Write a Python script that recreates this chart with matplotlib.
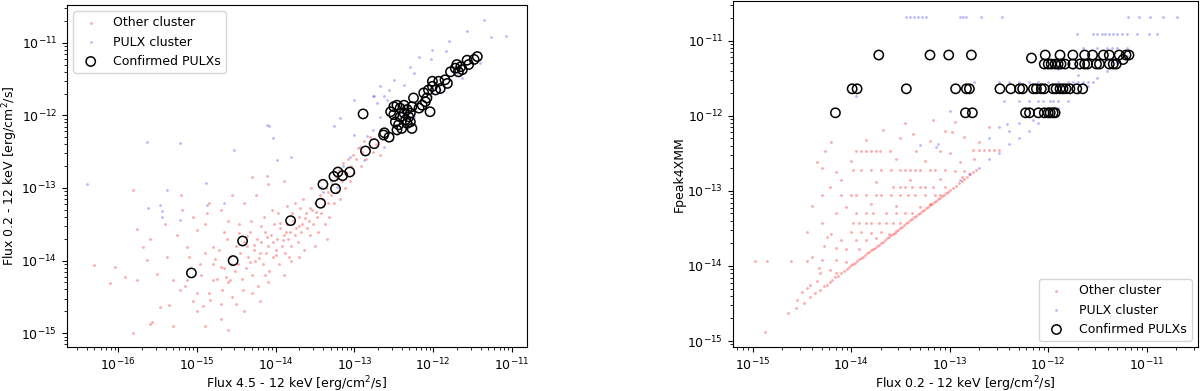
import numpy as np
import matplotlib
matplotlib.use('Agg')
import matplotlib.pyplot as plt

plt.rcParams['font.size'] = 9

# all values are log10(flux)

# ---- left panel: Flux 4.5-12 keV vs Flux 0.2-12 keV ----
left_other = [
    (-16.31, -14.06), (-16.04, -14.09), (-16.10, -14.31), (-15.81, -13.03), (-15.76, -13.56),
    (-15.91, -14.22), (-15.76, -14.27), (-15.57, -14.84), (-15.81, -15.00), (-15.60, -14.87),
    (-15.47, -14.64), (-15.36, -14.61), (-15.68, -13.81), (-15.64, -13.99), (-15.38, -13.95),
    (-15.51, -14.18), (-15.30, -14.27), (-15.21, -14.41), (-15.19, -13.30), (-15.13, -13.81),
    (-15.00, -13.58), (-14.96, -14.04), (-14.87, -13.35), (-14.83, -14.54), (-14.79, -14.27),
    (-15.00, -14.45), (-15.13, -14.27), (-14.58, -14.27), (-14.70, -14.09), (-14.79, -13.81),
    (-15.15, -14.35), (-15.05, -14.55), (-14.95, -14.20), (-14.90, -13.90), (-14.85, -14.45),
    (-14.80, -14.05), (-15.10, -13.95), (-15.00, -14.70), (-14.92, -14.62),
    (-14.75, -14.25), (-14.72, -13.85), (-14.68, -14.40), (-14.65, -14.10), (-14.62, -13.70),
    (-14.60, -14.30), (-14.58, -13.95), (-14.55, -14.50), (-14.52, -14.15), (-14.50, -13.80),
    (-14.70, -14.60), (-14.66, -13.60),
    (-14.48, -14.05), (-14.45, -13.90), (-14.43, -14.25), (-14.40, -13.75), (-14.38, -14.10),
    (-14.35, -13.95), (-14.33, -13.60), (-14.30, -14.20), (-14.28, -13.85), (-14.26, -14.00),
    (-14.24, -13.70), (-14.22, -14.35), (-14.20, -13.90), (-14.46, -13.50), (-14.42, -14.40),
    (-14.36, -13.80), (-14.31, -13.45),
    (-14.18, -13.75), (-14.16, -14.05), (-14.14, -13.60), (-14.12, -13.90), (-14.10, -13.80),
    (-14.08, -14.15), (-14.06, -13.65), (-14.04, -13.95), (-14.02, -13.50), (-14.00, -13.85),
    (-13.98, -13.70), (-13.96, -14.05), (-13.94, -13.55), (-13.92, -13.80), (-13.90, -13.65),
    (-14.15, -13.40), (-14.05, -13.30), (-13.97, -13.35),
    (-13.88, -13.90), (-13.86, -13.50), (-13.84, -13.70), (-13.82, -13.60), (-13.80, -13.80),
    (-13.78, -13.45), (-13.76, -13.65), (-13.74, -13.55), (-13.72, -13.75), (-13.70, -13.40),
    (-13.68, -13.60), (-13.66, -13.50), (-13.64, -13.85), (-13.62, -13.35), (-13.60, -13.55),
    (-13.85, -13.25), (-13.75, -13.20), (-13.65, -13.15), (-13.80, -14.00),
    (-13.58, -13.45), (-13.56, -13.65), (-13.54, -13.30), (-13.52, -13.50), (-13.50, -13.20),
    (-13.48, -13.40), (-13.46, -13.60), (-13.44, -13.10), (-13.42, -13.35), (-13.40, -13.25),
    (-13.38, -13.50), (-13.36, -13.00), (-13.34, -13.20), (-13.32, -13.40), (-13.30, -13.10),
    (-13.55, -13.00), (-13.45, -12.90), (-13.35, -13.70),
    (-13.28, -12.95), (-13.26, -13.20), (-13.24, -12.85), (-13.22, -13.05), (-13.20, -12.75),
    (-13.18, -13.15), (-13.16, -12.90), (-13.14, -12.65), (-13.12, -13.00), (-13.10, -12.80),
    (-13.08, -12.60), (-13.06, -12.90), (-13.04, -12.70), (-13.02, -12.55), (-13.00, -12.80),
    (-12.98, -12.60), (-12.95, -12.45), (-12.92, -12.70), (-12.90, -12.50), (-12.88, -12.35),
    (-12.85, -12.60), (-12.82, -12.45), (-12.80, -12.30), (-12.76, -12.50), (-12.72, -12.40),
    (-12.68, -12.55),
    (-15.60, -13.70), (-15.40, -13.50), (-15.25, -13.65), (-15.20, -13.10), (-15.05, -13.40),
    (-14.90, -13.50), (-14.85, -13.20), (-14.70, -13.30), (-14.60, -13.45), (-14.55, -13.10),
    (-14.40, -13.20), (-14.25, -13.10), (-14.10, -12.95), (-13.90, -12.90), (-14.30, -12.85),
    (-14.11, -12.84),
    (-14.90, -14.90), (-14.70, -14.80), (-14.50, -14.60), (-14.30, -14.45), (-14.10, -14.30),
    (-13.90, -14.20), (-14.40, -14.70), (-15.30, -14.90), (-14.60, -14.95), (-13.70, -13.95),
    (-13.50, -13.80), (-14.20, -14.55),
    # extra fill of the dense part of the band
    (-14.37, -13.66), (-14.27, -13.78), (-14.19, -13.52), (-14.11, -13.68), (-14.03, -13.74),
    (-13.95, -13.48), (-13.87, -13.60), (-13.79, -13.35), (-13.71, -13.52), (-13.63, -13.42),
    (-13.57, -13.28), (-13.49, -13.33), (-13.41, -13.15), (-13.33, -13.05), (-14.33, -14.02),
    (-14.21, -13.97), (-14.13, -14.20), (-13.99, -13.92), (-13.91, -13.72), (-13.83, -13.95),
    (-14.57, -14.05), (-14.63, -14.22), (-14.47, -13.62), (-14.77, -13.98), (-13.69, -13.28),
]

left_pulx = [
    (-11.36, -10.69), (-11.57, -10.84), (-11.27, -10.92), (-11.07, -10.91), (-11.80, -10.98),
    (-11.84, -11.12), (-12.01, -11.10), (-12.18, -11.20), (-12.29, -11.33), (-12.03, -11.23),
    (-12.25, -11.42), (-12.37, -11.58), (-12.56, -11.65), (-12.63, -11.74), (-12.76, -11.74),
    (-12.71, -11.83), (-12.50, -11.51), (-12.59, -11.79), (-12.67, -12.02), (-12.76, -12.20),
    (-12.84, -12.29), (-12.93, -12.43), (-13.01, -12.27), (-13.05, -12.57), (-13.14, -12.70),
    (-13.22, -12.98), (-12.52, -12.34), (-12.46, -12.25), (-12.12, -11.88), (-12.03, -11.74),
    (-11.91, -11.65), (-11.78, -11.51), (-11.70, -11.42), (-11.63, -11.49), (-11.72, -11.33),
    (-11.53, -11.21), (-11.40, -11.28), (-12.33, -12.15), (-12.25, -12.02), (-12.63, -12.43),
    (-12.88, -12.61),
    (-14.11, -12.13), (-14.08, -12.15), (-15.64, -12.36), (-15.21, -12.38), (-14.53, -12.48),
    (-14.03, -12.31), (-13.81, -12.57), (-13.18, -12.04), (-13.26, -12.15), (-13.01, -11.79),
    (-12.67, -11.60), (-12.75, -11.74), (-16.40, -12.94), (-14.89, -12.93), (-13.98, -12.61),
    (-13.43, -12.98), (-15.62, -13.28), (-15.47, -13.23), (-15.44, -13.32), (-15.38, -13.03),
    (-15.21, -13.44), (-14.87, -13.23), (-14.66, -13.21), (-15.44, -13.40), (-13.40, -13.05),
    (-13.30, -12.90),
]

left_confirmed = [
    (-15.07, -14.17), (-14.54, -14.00), (-14.42, -13.73), (-13.81, -13.45), (-13.43, -13.21),
    (-13.40, -12.95), (-13.24, -13.01), (-13.26, -12.84), (-13.21, -12.78), (-13.15, -12.83),
    (-13.06, -12.78), (-12.86, -12.49), (-12.75, -12.39), (-12.63, -12.27), (-12.62, -12.24),
    (-12.56, -12.30), (-12.89, -11.98),
    (-12.54, -11.95), (-12.50, -11.88), (-12.46, -11.86), (-12.42, -11.90), (-12.37, -11.86),
    (-12.33, -11.92), (-12.29, -11.97), (-12.25, -11.76), (-12.27, -11.88), (-12.48, -12.09),
    (-12.44, -12.13), (-12.40, -12.18), (-12.35, -12.06), (-12.31, -12.02), (-12.27, -12.18),
    (-12.50, -11.99), (-12.42, -12.02), (-12.33, -12.11), (-12.46, -12.20), (-12.37, -11.97),
    (-12.29, -12.09), (-12.18, -11.90), (-12.14, -11.86), (-12.10, -11.81), (-12.04, -11.95),
    (-12.08, -11.76), (-12.12, -11.69), (-12.06, -11.65), (-12.01, -11.60), (-12.01, -11.53),
    (-11.97, -11.65), (-11.93, -11.53), (-11.91, -11.63), (-11.85, -11.51), (-11.82, -11.56),
    (-11.78, -11.40), (-11.72, -11.35), (-11.70, -11.30), (-11.68, -11.40), (-11.65, -11.33),
    (-11.63, -11.37), (-11.57, -11.24), (-11.55, -11.30), (-11.48, -11.23), (-11.44, -11.19),
]

# ---- right panel: Flux 0.2-12 keV vs Fpeak4XMM ----
right_other = [
    (-13.17, -12.06), (-13.45, -12.10), (-12.95, -12.08),
    (-13.68, -12.19), (-13.37, -12.24), (-12.98, -12.22), (-13.05, -12.20), (-12.60, -12.15),
    (-14.20, -12.35), (-13.85, -12.32), (-13.50, -12.30), (-13.20, -12.33), (-12.85, -12.28),
    (-12.70, -12.35),
    (-14.27, -12.47), (-13.95, -12.47), (-13.90, -12.47), (-13.85, -12.47), (-13.80, -12.47),
    (-13.75, -12.47), (-13.71, -12.47), (-13.61, -12.47), (-13.34, -12.47), (-12.76, -12.46),
    (-12.70, -12.46), (-12.65, -12.46), (-12.60, -12.46), (-12.55, -12.46), (-12.50, -12.46),
    (-13.10, -12.47), (-13.00, -12.50),
    (-14.35, -12.62), (-14.00, -12.60), (-13.55, -12.58), (-13.25, -12.60), (-12.90, -12.62),
    (-12.75, -12.58),
    (-13.98, -12.72), (-13.90, -12.72), (-13.80, -12.72), (-13.70, -12.72), (-13.60, -12.72),
    (-13.50, -12.72), (-13.45, -12.72), (-13.40, -12.72), (-13.35, -12.72), (-13.30, -12.72),
    (-13.20, -12.72), (-13.15, -12.72), (-13.05, -12.72), (-12.95, -12.73), (-12.85, -12.73),
    (-14.30, -12.70), (-14.15, -12.75),
    (-14.10, -12.85), (-13.75, -12.88), (-13.40, -12.85), (-13.10, -12.84), (-12.88, -12.82),
    (-14.22, -12.95), (-13.58, -12.95), (-13.50, -12.95), (-13.45, -12.95), (-13.38, -12.95),
    (-13.30, -12.95), (-13.25, -12.95), (-13.17, -12.95), (-13.05, -12.95),
    (-14.30, -13.06), (-14.10, -13.06), (-14.00, -13.06), (-13.95, -13.06), (-13.85, -13.06),
    (-13.75, -13.06), (-13.70, -13.06), (-13.60, -13.06), (-13.50, -13.06), (-13.42, -13.06),
    (-13.35, -13.06), (-13.25, -13.06), (-13.15, -13.06), (-13.10, -13.06),
    (-14.40, -13.20), (-14.05, -13.22), (-13.80, -13.18), (-13.55, -13.20), (-13.30, -13.22),
    (-13.20, -13.17),
    (-14.15, -13.30), (-13.95, -13.30), (-13.85, -13.30), (-13.78, -13.30), (-13.65, -13.30),
    (-13.55, -13.30), (-13.45, -13.30), (-13.38, -13.30),
    (-14.30, -13.43), (-13.98, -13.43), (-13.92, -13.43), (-13.85, -13.43), (-13.80, -13.43),
    (-13.72, -13.43), (-13.65, -13.43), (-13.58, -13.43), (-13.50, -13.43),
    (-14.45, -13.55), (-14.20, -13.57), (-14.00, -13.55), (-13.90, -13.55), (-13.80, -13.56),
    (-13.70, -13.55), (-13.62, -13.57),
    (-14.25, -13.62), (-14.10, -13.65), (-13.95, -13.66), (-13.85, -13.65), (-13.75, -13.63),
    (-14.28, -13.74), (-14.15, -13.76), (-14.05, -13.78), (-13.92, -13.78),
    (-14.40, -13.88), (-14.30, -13.92), (-14.15, -13.92), (-14.05, -13.95),
    (-14.98, -13.93), (-14.85, -13.93), (-14.61, -13.94), (-14.45, -13.93), (-14.33, -14.03),
    (-14.22, -14.05), (-14.15, -14.10),
    (-14.32, -14.10), (-14.42, -14.26), (-14.35, -14.20), (-14.55, -14.45), (-14.50, -14.35),
    (-14.45, -14.30),
    # lower envelope, Fpeak close to the mean flux
    (-14.87, -14.88), (-14.64, -14.63), (-14.56, -14.56), (-14.48, -14.49), (-14.42, -14.42),
    (-14.37, -14.36), (-14.32, -14.32), (-14.28, -14.27), (-14.25, -14.25), (-14.22, -14.21),
    (-14.19, -14.19), (-14.16, -14.15), (-14.13, -14.13), (-14.10, -14.09), (-14.07, -14.07),
    (-14.04, -14.04), (-14.02, -14.01), (-14.00, -13.99), (-13.98, -13.97), (-13.96, -13.96),
    (-13.94, -13.93), (-13.92, -13.91), (-13.90, -13.89), (-13.88, -13.88), (-13.86, -13.86),
    (-13.84, -13.83), (-13.82, -13.82), (-13.80, -13.79), (-13.78, -13.77), (-13.76, -13.76),
    (-13.74, -13.73), (-13.72, -13.72), (-13.70, -13.69), (-13.68, -13.68), (-13.66, -13.66),
    (-13.64, -13.63), (-13.62, -13.62), (-13.60, -13.59), (-13.58, -13.58), (-13.56, -13.56),
    (-13.54, -13.53), (-13.52, -13.52), (-13.50, -13.49), (-13.48, -13.48), (-13.46, -13.46),
    (-13.44, -13.43), (-13.42, -13.41), (-13.40, -13.39), (-13.38, -13.38), (-13.36, -13.35),
    (-13.34, -13.33), (-13.32, -13.31), (-13.30, -13.29), (-13.28, -13.27), (-13.26, -13.25),
    (-13.24, -13.23), (-13.22, -13.21), (-13.20, -13.19), (-13.18, -13.17), (-13.16, -13.15),
    (-13.14, -13.13), (-13.12, -13.11), (-13.10, -13.09), (-13.08, -13.07), (-13.06, -13.05),
    (-13.04, -13.03), (-13.02, -13.01), (-13.00, -12.99), (-12.97, -12.96), (-12.94, -12.93),
    (-12.91, -12.90), (-12.88, -12.87), (-12.85, -12.84), (-12.82, -12.81), (-12.79, -12.78),
    (-12.76, -12.75), (-12.73, -12.72),
]

right_pulx = [
    (-13.44, -10.68), (-13.40, -10.68), (-13.36, -10.68), (-13.32, -10.68), (-13.28, -10.68),
    (-13.24, -10.68), (-12.90, -10.68), (-12.86, -10.68), (-12.83, -10.68), (-12.68, -10.68),
    (-12.47, -10.68), (-11.19, -10.68), (-11.08, -10.68), (-10.97, -10.68), (-10.83, -10.68),
    (-10.69, -10.68),
    (-11.71, -10.91), (-11.55, -10.91), (-11.50, -10.91), (-11.45, -10.91), (-11.42, -10.91),
    (-11.38, -10.91), (-11.34, -10.91), (-11.30, -10.91), (-11.25, -10.91), (-11.20, -10.91),
    (-11.10, -10.91), (-10.98, -10.91), (-10.90, -10.91),
    (-11.65, -11.09), (-11.50, -11.09), (-11.40, -11.09), (-11.30, -11.09), (-11.20, -11.09),
    (-11.90, -11.38), (-11.75, -11.36), (-11.30, -11.30),
    (-12.75, -11.55), (-12.50, -11.55), (-12.40, -11.55), (-12.30, -11.55), (-12.20, -11.55),
    (-12.10, -11.55), (-12.00, -11.55), (-11.90, -11.55), (-11.80, -11.55), (-11.75, -11.55),
    (-11.70, -11.55), (-11.65, -11.55), (-11.60, -11.55), (-11.55, -11.55),
    (-12.45, -11.80), (-12.30, -11.80), (-12.20, -11.80), (-12.10, -11.80), (-12.05, -11.80),
    (-11.98, -11.80), (-11.95, -11.80), (-11.90, -11.80),
    (-12.30, -12.10), (-12.15, -12.05), (-12.50, -12.15),
    (-12.90, -12.85), (-12.80, -12.78), (-12.70, -12.70), (-12.60, -12.58), (-12.50, -12.50),
    (-12.40, -12.38), (-12.30, -12.30), (-12.20, -12.20), (-12.10, -12.10), (-12.00, -12.00),
    (-11.90, -11.90), (-11.80, -11.80), (-11.70, -11.70), (-11.60, -11.60), (-11.50, -11.50),
    (-11.40, -11.40), (-11.30, -11.30), (-11.20, -11.20),
    (-12.60, -12.30), (-12.40, -12.20), (-12.20, -11.95), (-11.70, -11.45), (-11.50, -11.20),
    (-11.60, -11.25), (-11.35, -11.10),
    (-13.30, -12.39), (-13.12, -12.38), (-13.00, -11.93), (-13.14, -12.42), (-12.42, -12.11),
    (-13.95, -11.73),
]

right_confirmed = [
    (-14.16, -11.96), (-13.99, -11.64), (-13.94, -11.64), (-13.72, -11.19), (-13.44, -11.64),
    (-13.20, -11.19), (-13.01, -11.19), (-12.78, -11.19),
    (-12.17, -11.23), (-12.03, -11.19), (-11.88, -11.19), (-11.75, -11.19), (-11.63, -11.19),
    (-11.55, -11.19), (-11.44, -11.19), (-11.38, -11.19), (-11.28, -11.19), (-11.21, -11.19),
    (-11.18, -11.19), (-11.24, -11.25),
    (-12.04, -11.31), (-12.00, -11.31), (-11.97, -11.31), (-11.93, -11.31), (-11.90, -11.31),
    (-11.87, -11.31), (-11.83, -11.31), (-11.75, -11.31), (-11.68, -11.31), (-11.63, -11.31),
    (-11.60, -11.31), (-11.51, -11.31), (-11.48, -11.31), (-11.38, -11.31), (-11.34, -11.31),
    (-11.31, -11.31),
    (-12.94, -11.64), (-12.83, -11.64), (-12.80, -11.64), (-12.49, -11.64), (-12.38, -11.64),
    (-12.29, -11.64), (-12.26, -11.64), (-12.15, -11.64), (-12.12, -11.64), (-12.07, -11.64),
    (-12.04, -11.64), (-11.95, -11.64), (-11.92, -11.64), (-11.88, -11.64), (-11.85, -11.64),
    (-11.82, -11.64), (-11.78, -11.64), (-11.71, -11.64), (-11.65, -11.64),
    (-12.84, -11.96), (-12.77, -11.96), (-12.23, -11.96), (-12.19, -11.96), (-12.10, -11.96),
    (-12.04, -11.96), (-12.00, -11.96), (-11.98, -11.96), (-11.95, -11.96), (-11.93, -11.96),
]

flux_label_soft = 'Flux 0.2 - 12 keV [erg/cm$^2$/s]'
flux_label_hard = 'Flux 4.5 - 12 keV [erg/cm$^2$/s]'
legend_labels = ['Other cluster', 'PULX cluster', 'Confirmed PULXs']


def to_lin(points):
    arr = 10.0 ** np.array(points)
    return arr[:, 0], arr[:, 1]


def draw_panel(ax, other, pulx, confirmed):
    x, y = to_lin(other)
    ax.scatter(x, y, s=4, c='red', alpha=0.35, linewidths=0, label=legend_labels[0])
    x, y = to_lin(pulx)
    ax.scatter(x, y, s=4, c='blue', alpha=0.28, linewidths=0, label=legend_labels[1])
    x, y = to_lin(confirmed)
    ax.scatter(x, y, s=45, facecolors='none', edgecolors='black', linewidths=1.1,
               label=legend_labels[2])
    ax.set_xscale('log')
    ax.set_yscale('log')


fig = plt.figure(figsize=(12, 3.91), dpi=100)
ax1 = fig.add_axes([0.0558, 0.1125, 0.3833, 0.8747])
ax2 = fig.add_axes([0.6108, 0.1125, 0.3875, 0.8850])

draw_panel(ax1, left_other, left_pulx, left_confirmed)
ax1.set_xlim(10 ** -16.65, 10 ** -10.81)
ax1.set_ylim(10 ** -15.19, 10 ** -10.48)
ax1.set_xlabel(flux_label_hard, labelpad=0.5)
ax1.set_ylabel(flux_label_soft, labelpad=1)
ax1.legend(loc='upper left')

draw_panel(ax2, right_other, right_pulx, right_confirmed)
ax2.set_xlim(10 ** -15.2, 10 ** -10.48)
ax2.set_ylim(10 ** -15.08, 10 ** -10.47)
ax2.set_xlabel(flux_label_soft, labelpad=0.5)
ax2.set_ylabel('Fpeak4XMM', labelpad=1)
ax2.legend(loc='lower right')

fig.savefig('out.png', dpi=100)
